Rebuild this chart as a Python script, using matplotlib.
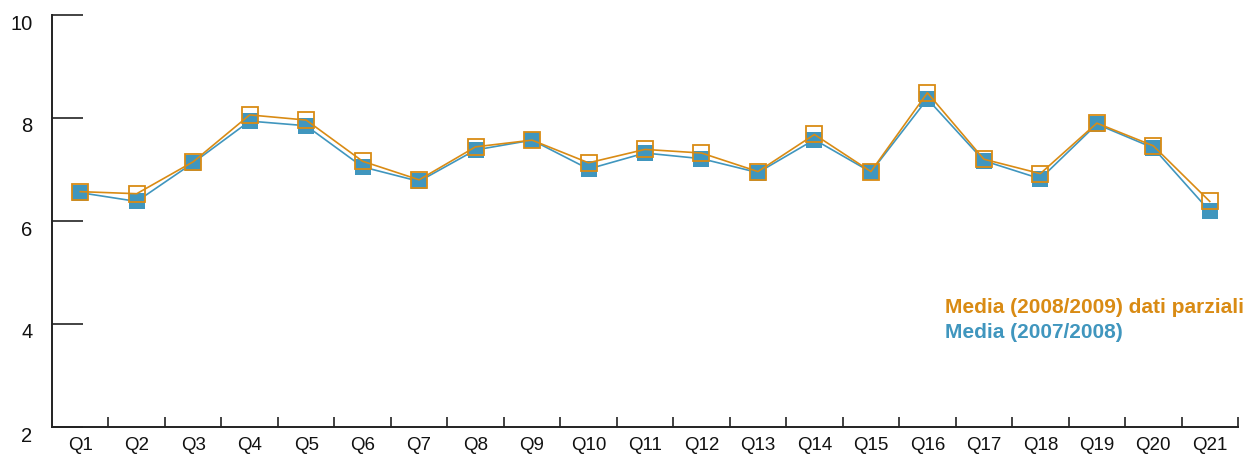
import matplotlib
matplotlib.use("Agg")
import matplotlib.pyplot as plt
import matplotlib.transforms as mtransforms

categories = ["Q1", "Q2", "Q3", "Q4", "Q5", "Q6", "Q7", "Q8", "Q9", "Q10", "Q11",
              "Q12", "Q13", "Q14", "Q15", "Q16", "Q17", "Q18", "Q19", "Q20", "Q21"]
media_2008_2009 = [6.57, 6.53, 7.15, 8.06, 7.96, 7.16, 6.80, 7.44, 7.57, 7.13, 7.39,
                   7.32, 6.96, 7.68, 6.96, 8.49, 7.20, 6.92, 7.90, 7.46, 6.38]
media_2007_2008 = [6.55, 6.38, 7.13, 7.94, 7.85, 7.05, 6.77, 7.38, 7.57, 7.01, 7.32,
                   7.21, 6.94, 7.58, 6.95, 8.37, 7.17, 6.82, 7.88, 7.42, 6.19]
label_2008_2009 = "Media (2008/2009) dati parziali"
label_2007_2008 = "Media (2007/2008)"
y_ticks = [2, 4, 6, 8, 10]

ORANGE = "#D98B14"
BLUE = "#4096BE"
AXC = "#222222"

plt.rcParams['font.family'] = ['Liberation Sans', 'DejaVu Sans']

fig = plt.figure(figsize=(12.5, 4.55), dpi=100)
ax = fig.add_axes([52/1250, 28/455, (1238-52)/1250, (427-15)/455])

x = list(range(len(categories)))
ax.plot(x, media_2007_2008, color=BLUE, lw=1.2, marker='s', ms=11.8,
        markerfacecolor=BLUE, markeredgewidth=0, zorder=3)
ax.plot(x, media_2008_2009, color=ORANGE, lw=1.2, marker='s', ms=11.0,
        markerfacecolor='none', markeredgecolor=ORANGE, markeredgewidth=1.3, zorder=4)

ax.set_xlim(-0.5, len(categories) - 0.5)
ax.set_ylim(2, 10)

for s in ['top', 'right']:
    ax.spines[s].set_visible(False)
for s in ['left', 'bottom']:
    ax.spines[s].set_color(AXC)
    ax.spines[s].set_linewidth(1.4)

ax.set_yticks(y_ticks)
ax.set_yticklabels([str(v) for v in y_ticks])
ax.tick_params(axis='y', direction='in', length=22, width=1.2, color=AXC,
               labelsize=14.5, pad=14, labelcolor='#111111')
offset = mtransforms.ScaledTranslation(0, -7/100, fig.dpi_scale_trans)
for lab in ax.get_yticklabels():
    lab.set_transform(lab.get_transform() + offset)

ax.set_xticks(x)
ax.set_xticklabels(categories)
ax.tick_params(axis='x', which='major', length=0, labelsize=13.5, pad=7.5,
               labelcolor='#111111')
ax.set_xticks([i + 0.5 for i in x], minor=True)
ax.tick_params(axis='x', which='minor', direction='in', length=7, width=1.2, color=AXC)

fig.text(945/1250, 1 - 313/455, label_2008_2009, color=ORANGE, fontsize=15,
         fontweight='bold', ha='left', va='baseline')
fig.text(945/1250, 1 - 338/455, label_2007_2008, color=BLUE, fontsize=15,
         fontweight='bold', ha='left', va='baseline')

fig.savefig("out.png", dpi=100)
